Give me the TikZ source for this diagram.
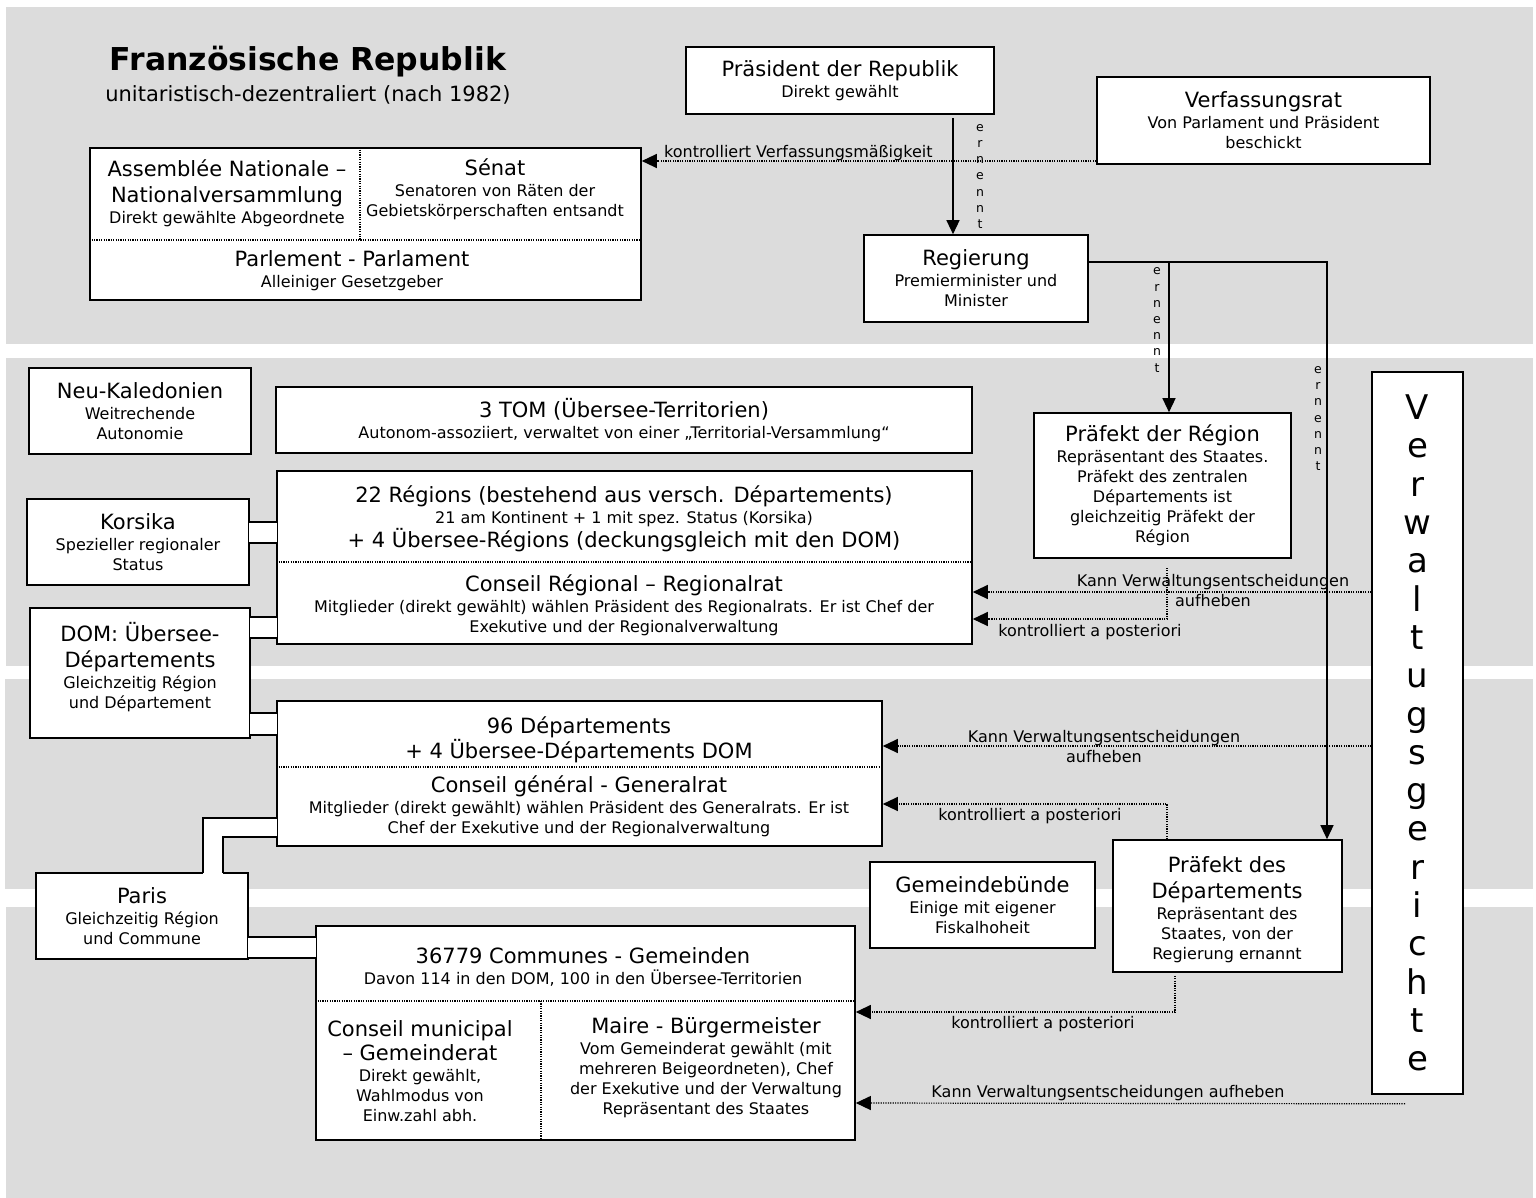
\documentclass[tikz,border=0pt]{standalone}
\usepackage{fontspec}
\setmainfont{DejaVu Sans}
\usetikzlibrary{arrows.meta}
\usetikzlibrary{calc}
\definecolor{BandGray}{HTML}{DCDCDC}

\newcommand{\boxhead}{\fontsize{21}{26}\selectfont}
\newcommand{\boxnote}{\fontsize{16}{20}\selectfont}
\newcommand{\stackfont}{\fontsize{12.5}{16.2}\selectfont}

\begin{document}
\begin{tikzpicture}[
        x=1pt, y=-1pt,
        every node/.style={align=center, font=\boxnote, inner sep=0pt},
        band/.style={fill=BandGray},
        box/.style={draw, line width=1.6pt, fill=white},
        strip/.style={line width=1.6pt, line cap=rect},
        divider/.style={line width=1.2pt, dash pattern=on 1.2pt off 1.2pt},
        appoint/.style={line width=1.3pt, -{Triangle[length=14pt, width=13pt]}},
        ctrl/.style={line width=1.2pt, dash pattern=on 1.2pt off 1.2pt, -{Triangle[length=15pt, width=14pt]}},
        lbl/.style={font=\boxnote},
        vlbl/.style={font=\stackfont}
    ]
        \useasboundingbox (0,0) rectangle (1536,1198);

        % grey levels
        \fill[band] (6,7) rectangle (1533,344);
        \fill[band] (6,358) rectangle (1533,666);
        \fill[band] (5,679) rectangle (1533,889);
        \fill[band] (6,907) rectangle (1533,1198);

        \node[font=\fontsize{31.5}{34}\selectfont\bfseries] (title) at (308,62) {Französische Republik};
        \node[font=\boxhead] (subtitle) at (308,95) {unitaristisch-dezentraliert (nach 1982)};

        % state level
        \node[box, minimum width=308pt, minimum height=67pt] (pres) at (840,80.5)
            {{\boxhead Präsident der Republik}\\[1pt]Direkt gewählt};
        \node[box, minimum width=333pt, minimum height=87pt] (vrat) at (1263.5,120.5)
            {{\boxhead Verfassungsrat}\\[1pt]Von Parlament und Präsident\\beschickt};
        \node[box, minimum width=224pt, minimum height=87pt] (reg) at (976,278.5)
            {{\boxhead Regierung}\\[1pt]Premierminister und\\Minister};

        \node[box, minimum width=551pt, minimum height=152pt] (parl) at (365.5,224) {};
        \draw[divider] (parl.west |- 0,240) -- (parl.east |- 0,240);
        \draw[divider] (parl.north -| 360,0) -- (360,240);
        \node (anl) at (227,193)
            {{\boxhead Assemblée Nationale –}\\[6pt]{\boxhead Nationalversammlung}\\[1pt]Direkt gewählte Abgeordnete};
        \node (senat) at (495,189)
            {{\boxhead Sénat}\\[1pt]Senatoren von Räten der\\Gebietskörperschaften entsandt};
        \node (parlbot) at (352,271)
            {{\boxhead Parlement - Parlament}\\[1pt]Alleiniger Gesetzgeber};

        % regions
        \node[box, minimum width=222pt, minimum height=86pt] (neukal) at (140,411)
            {{\boxhead Neu-Kaledonien}\\[1pt]Weitrechende\\Autonomie};
        \node[box, minimum width=696pt, minimum height=66pt] (tom) at (624,420)
            {{\boxhead 3 TOM (Übersee-Territorien)}\\[1pt]Autonom-assoziiert, verwaltet von einer „Territorial-Versammlung“};
        \node[box, minimum width=257pt, minimum height=145pt] (prefreg) at (1162.5,485.5)
            {{\boxhead Präfekt der Région}\\[1pt]Repräsentant des Staates.\\Präfekt des zentralen\\Départements ist\\gleichzeitig Präfekt der\\Région};
        \node[box, minimum width=222pt, minimum height=86pt] (korsika) at (138,542)
            {{\boxhead Korsika}\\[1pt]Spezieller regionaler\\Status};

        \node[box, minimum width=695pt, minimum height=173pt] (regional) at (624.5,557.5) {};
        \draw[divider] (regional.west |- 0,562) -- (regional.east |- 0,562);
        \node (regtop) at (624,519)
            {{\boxhead 22 Régions (bestehend aus versch. Départements)}\\[1pt]21 am Kontinent + 1 mit spez. Status (Korsika)\\{\boxhead + 4 Übersee-Régions (deckungsgleich mit den DOM)}};
        \node (regbot) at (624,605)
            {{\boxhead Conseil Régional – Regionalrat}\\[1pt]Mitglieder (direkt gewählt) wählen Präsident des Regionalrats. Er ist Chef der\\Exekutive und der Regionalverwaltung};

        \node[box, minimum width=220pt, minimum height=130pt] (dom) at (140,673) {};
        \node (domtext) at (140,667)
            {{\boxhead DOM: Übersee-}\\[6pt]{\boxhead Départements}\\[1pt]Gleichzeitig Région\\und Département};

        % departements
        \node[box, minimum width=605pt, minimum height=145pt] (dep) at (579.5,773.5) {};
        \draw[divider] (dep.west |- 0,767) -- (dep.east |- 0,767);
        \node (deptop) at (579,740)
            {{\boxhead 96 Départements}\\{\boxhead + 4 Übersee-Départements DOM}};
        \node (depbot) at (579,806)
            {{\boxhead Conseil général - Generalrat}\\[1pt]Mitglieder (direkt gewählt) wählen Präsident des Generalrats. Er ist\\Chef der Exekutive und der Regionalverwaltung};

        \node[box, minimum width=212pt, minimum height=86pt] (paris) at (142,916)
            {{\boxhead Paris}\\[1pt]Gleichzeitig Région\\und Commune};
        \node[box, minimum width=225pt, minimum height=86pt] (gemb) at (982.5,905)
            {{\boxhead Gemeindebünde}\\[1pt]Einige mit eigener\\Fiskalhoheit};
        \node[box, minimum width=229pt, minimum height=132pt] (prefdep) at (1227.5,906) {};
        \node (prefdeptext) at (1227,910)
            {{\boxhead Präfekt des}\\[6pt]{\boxhead Départements}\\[1pt]Repräsentant des\\Staates, von der\\Regierung ernannt};

        % communes
        \node[box, minimum width=539pt, minimum height=214pt] (comm) at (585.5,1033) {};
        \draw[divider] (comm.west |- 0,1001) -- (comm.east |- 0,1001);
        \draw[divider] (541,1001) -- (comm.south -| 541,0);
        \node (commtop) at (583,967)
            {{\boxhead 36779 Communes - Gemeinden}\\[1pt]Davon 114 in den DOM, 100 in den Übersee-Territorien};
        \node (commleft) at (420,1071)
            {{\boxhead Conseil municipal}\\[3pt]{\boxhead – Gemeinderat}\\[1pt]Direkt gewählt,\\Wahlmodus von\\Einw.zahl abh.};
        \node (commright) at (706,1068)
            {{\boxhead Maire - Bürgermeister}\\[1pt]Vom Gemeinderat gewählt (mit\\mehreren Beigeordneten), Chef\\der Exekutive und der Verwaltung\\Repräsentant des Staates};

        \node[box, minimum width=91pt, minimum height=722pt, font=\fontsize{34}{38.3}\selectfont] (vg) at (1417.5,733)
            {V\\e\\r\\w\\a\\l\\t\\u\\g\\s\\g\\e\\r\\i\\c\\h\\t\\e};

        % white strips joining the side boxes
        \fill[white] ([xshift=-1pt]korsika.east |- 0,522) rectangle ([xshift=1pt]regional.west |- 0,543);
        \draw[strip] (korsika.east |- 0,522) -- (regional.west |- 0,522) (korsika.east |- 0,543) -- (regional.west |- 0,543);
        \fill[white] ([xshift=-1pt]dom.east |- 0,617) rectangle ([xshift=1pt]regional.west |- 0,638);
        \draw[strip] (dom.east |- 0,617) -- (regional.west |- 0,617) (dom.east |- 0,638) -- (regional.west |- 0,638);
        \fill[white] ([xshift=-1pt]dom.east |- 0,713) rectangle ([xshift=1pt]dep.west |- 0,735);
        \draw[strip] (dom.east |- 0,713) -- (dep.west |- 0,713) (dom.east |- 0,735) -- (dep.west |- 0,735);
        \fill[white] (paris.north -| 203,0) ++(0,1.5) rectangle (223,818);
        \fill[white] (203,818) rectangle ([xshift=1pt]dep.west |- 0,837);
        \draw[strip] (paris.north -| 203,0) -- (203,818) -- (dep.west |- 0,818);
        \draw[strip] (paris.north -| 223,0) -- (223,837) -- (dep.west |- 0,837);
        \fill[white] ([xshift=-1pt]paris.east |- 0,937) rectangle ([xshift=1pt]comm.west |- 0,958);
        \draw[strip] (paris.east |- 0,937) -- (comm.west |- 0,937) (paris.east |- 0,958) -- (comm.west |- 0,958);

        % appointments
        \draw[appoint] ($(pres.south)+(113,3)$) -- (reg.north -| 953,0);
        \draw[appoint] (reg.east |- 0,262) -| (prefdep.north -| 1327,0);
        \draw[appoint] (reg.east |- 0,262) -| (prefreg.north -| 1169,0);
        \node[vlbl] (ern1) at (980,176.5) {e\\r\\n\\e\\n\\n\\t};
        \node[vlbl] (ern2) at (1157,320) {e\\r\\n\\e\\n\\n\\t};
        \node[vlbl] (ern3) at (1318,418.5) {e\\r\\n\\e\\n\\n\\t};

        % control
        \draw[ctrl] (vrat.west |- 0,161) -- (parl.east |- 0,161);
        \node[lbl, anchor=west] (lblverf) at (664,153) {kontrolliert Verfassungsmäßigkeit};

        \draw[ctrl] (vg.west |- 0,592) -- (regional.east |- 0,592);
        \draw[ctrl] (prefreg.south -| 1167,0) ++(0,9) |- (regional.east |- 0,619);
        \node[lbl] (lblreg1) at (1213,590.5) {Kann Verwaltungsentscheidungen\\aufheben};
        \node[lbl] (lblreg2) at (1090,632) {kontrolliert a posteriori};

        \draw[ctrl] (vg.west |- 0,746) -- (dep.east |- 0,746);
        \draw[ctrl] (prefdep.north -| 1167,0) |- (dep.east |- 0,804);
        \node[lbl] (lbldep1) at (1104,747) {Kann Verwaltungsentscheidungen\\aufheben};
        \node[lbl] (lbldep2) at (1030,816) {kontrolliert a posteriori};

        \draw[ctrl] (prefdep.south -| 1175,0) ++(0,3) |- (comm.east |- 0,1012);
        \draw[ctrl] (vg.south -| 1405,0) ++(0,9) -- (comm.east |- 0,1103);
        \node[lbl] (lblcom1) at (1043,1024) {kontrolliert a posteriori};
        \node[lbl] (lblcom2) at (1108,1093) {Kann Verwaltungsentscheidungen aufheben};
\end{tikzpicture}
\end{document}
